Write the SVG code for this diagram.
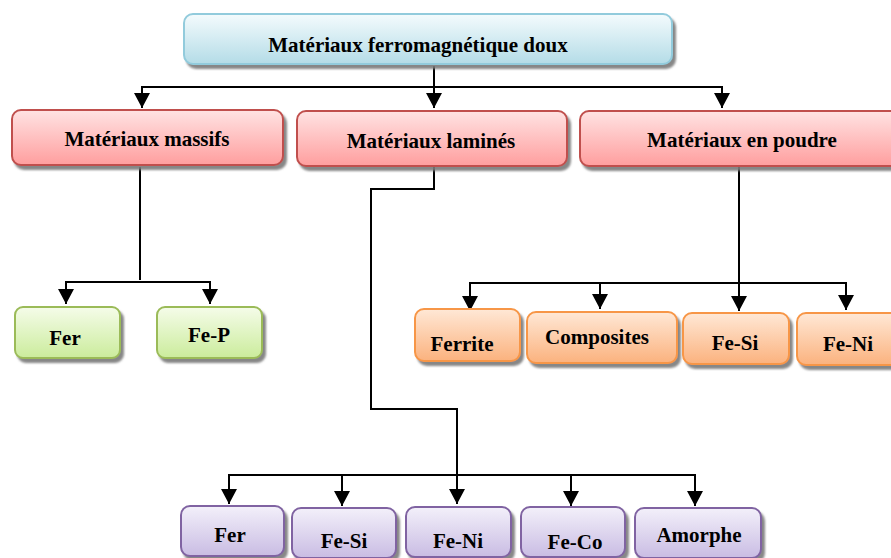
<svg xmlns="http://www.w3.org/2000/svg" width="891" height="558" viewBox="0 0 891 558">
<defs>
<linearGradient id="gBlue" x1="0" y1="0" x2="0" y2="1"><stop offset="0" stop-color="#f4fbfd"/><stop offset="1" stop-color="#b4dce7"/></linearGradient>
<linearGradient id="gRed" x1="0" y1="0" x2="0" y2="1"><stop offset="0" stop-color="#ffe3e3"/><stop offset="1" stop-color="#ff9e9e"/></linearGradient>
<linearGradient id="gGreen" x1="0" y1="0" x2="0" y2="1"><stop offset="0" stop-color="#f5fce9"/><stop offset="1" stop-color="#cbec9c"/></linearGradient>
<linearGradient id="gOrange" x1="0" y1="0" x2="0" y2="1"><stop offset="0" stop-color="#ffe8d6"/><stop offset="1" stop-color="#fbb27e"/></linearGradient>
<linearGradient id="gPurple" x1="0" y1="0" x2="0" y2="1"><stop offset="0" stop-color="#f3f0fa"/><stop offset="1" stop-color="#c9bce3"/></linearGradient>
<filter id="sh" x="-10%" y="-20%" width="130%" height="150%"><feDropShadow dx="3" dy="4" stdDeviation="1" flood-color="#7a7a7a" flood-opacity="0.9"/></filter>
<marker id="arr" markerWidth="7.5" markerHeight="8" refX="7.5" refY="4" orient="auto" markerUnits="strokeWidth"><path d="M0,0 L7.5,4 L0,8 Z" fill="#000"/></marker>
</defs>
<style>
.t{font-family:"Liberation Serif","Times New Roman",serif;font-weight:bold;font-size:21px;fill:#000;text-anchor:middle}
.blue{fill:url(#gBlue);stroke:#92cbdc;stroke-width:2}
.red{fill:url(#gRed);stroke:#c0504d;stroke-width:2}
.green{fill:url(#gGreen);stroke:#9bbb59;stroke-width:2}
.orange{fill:url(#gOrange);stroke:#f79646;stroke-width:2}
.purple{fill:url(#gPurple);stroke:#8064a2;stroke-width:2}
.c{fill:none;stroke:#000;stroke-width:2}
.a{fill:none;stroke:#000;stroke-width:2;marker-end:url(#arr)}
</style>
<rect width="891" height="558" fill="#fff"/>
<g id="connectors">
<line class="c" x1="142" y1="87" x2="722" y2="87"/>
<line class="a" x1="434" y1="66" x2="434" y2="108"/>
<line class="a" x1="142" y1="86" x2="142" y2="108"/>
<line class="a" x1="722" y1="86" x2="722" y2="108"/>
<line class="c" x1="140" y1="167" x2="140" y2="280"/>
<line class="c" x1="66" y1="282" x2="210" y2="282"/>
<line class="a" x1="66" y1="281" x2="66" y2="304"/>
<line class="a" x1="210" y1="281" x2="210" y2="304"/>
<line class="a" x1="739" y1="167" x2="739" y2="311"/>
<line class="c" x1="470" y1="283" x2="846" y2="283"/>
<line class="a" x1="470" y1="282" x2="470" y2="311"/>
<line class="a" x1="600" y1="282" x2="600" y2="309"/>
<line class="a" x1="846" y1="282" x2="846" y2="310"/>
<path class="a" d="M434,167 V189 H371 V409 H457 V504"/>
<line class="c" x1="229" y1="475" x2="695" y2="475"/>
<line class="a" x1="229" y1="474" x2="229" y2="504"/>
<line class="a" x1="342" y1="474" x2="342" y2="506"/>
<line class="a" x1="571" y1="474" x2="571" y2="506"/>
<line class="a" x1="695" y1="474" x2="695" y2="506"/>
</g>
<g id="n-root"><rect class="blue" filter="url(#sh)" x="184" y="14" width="488" height="50" rx="9"/><text class="t" x="418" y="52">Matériaux ferromagnétique doux</text></g>
<g id="n-massifs"><rect class="red" filter="url(#sh)" x="12" y="110" width="271" height="55" rx="9"/><text class="t" x="147" y="146">Matériaux massifs</text></g>
<g id="n-lamines"><rect class="red" filter="url(#sh)" x="297" y="111" width="270" height="55" rx="9"/><text class="t" x="431" y="148">Matériaux laminés</text></g>
<g id="n-poudre"><rect class="red" filter="url(#sh)" x="580" y="111" width="330" height="55" rx="9"/><text class="t" x="742" y="147">Matériaux en poudre</text></g>
<g id="n-fer1"><rect class="green" filter="url(#sh)" x="15" y="307" width="105" height="51" rx="8"/><text class="t" x="65" y="345">Fer</text></g>
<g id="n-fep"><rect class="green" filter="url(#sh)" x="157" y="307" width="105" height="51" rx="8"/><text class="t" x="209" y="342">Fe-P</text></g>
<g id="n-ferrite"><rect class="orange" filter="url(#sh)" x="415" y="309" width="105" height="52" rx="9"/><text class="t" x="462" y="351">Ferrite</text></g>
<g id="n-composites"><rect class="orange" filter="url(#sh)" x="527" y="312" width="150" height="51" rx="9"/><text class="t" x="597" y="344">Composites</text></g>
<g id="n-fesi1"><rect class="orange" filter="url(#sh)" x="683" y="313" width="106" height="51" rx="9"/><text class="t" x="735" y="350">Fe-Si</text></g>
<g id="n-feni1"><rect class="orange" filter="url(#sh)" x="797" y="313" width="110" height="52" rx="9"/><text class="t" x="848" y="351">Fe-Ni</text></g>
<g id="n-fer2"><rect class="purple" filter="url(#sh)" x="181" y="506" width="103" height="50" rx="9"/><text class="t" x="230" y="542">Fer</text></g>
<g id="n-fesi2"><rect class="purple" filter="url(#sh)" x="292" y="508" width="104" height="50" rx="9"/><text class="t" x="344" y="548">Fe-Si</text></g>
<g id="n-feni2"><rect class="purple" filter="url(#sh)" x="406" y="507" width="105" height="50" rx="9"/><text class="t" x="458" y="548">Fe-Ni</text></g>
<g id="n-feco"><rect class="purple" filter="url(#sh)" x="521" y="507" width="104" height="50" rx="9"/><text class="t" x="575" y="549">Fe-Co</text></g>
<g id="n-amorphe"><rect class="purple" filter="url(#sh)" x="635" y="508" width="126" height="50" rx="9"/><text class="t" x="699" y="542">Amorphe</text></g>
</svg>
